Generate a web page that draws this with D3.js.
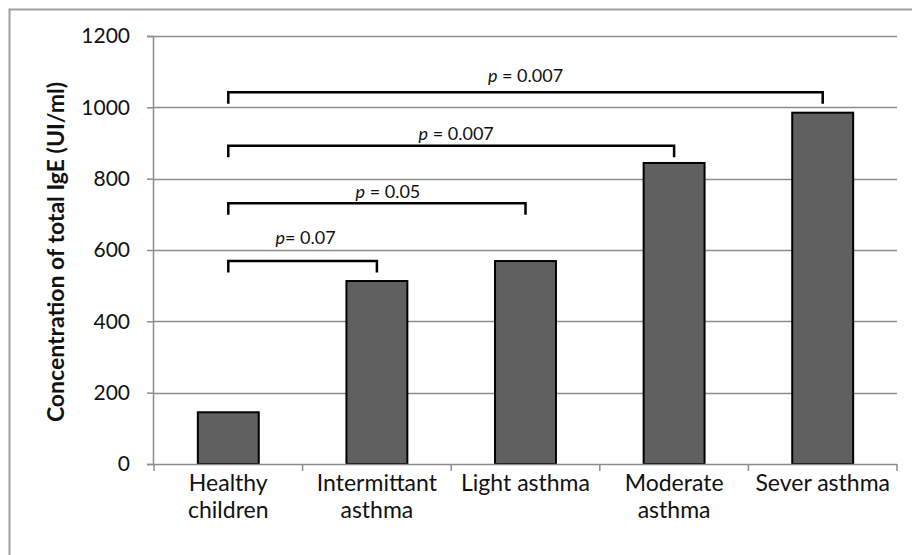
<!DOCTYPE html>
<html>
<head>
    <title>Total IgE</title>
    <script src="https://cdnjs.cloudflare.com/ajax/libs/d3/7.8.5/d3.min.js"></script>
    <style>
        body { margin: 0; background: #fff; }
        text { font-family: Lato, "Open Sans", sans-serif; fill: #111; }
    </style>
</head>
<body>
    <div id="chart"></div>
    <script>
        // categories, one array of lines per label
        var categories = ["Healthy children", "Intermittant asthma", "Light asthma", "Moderate asthma", "Sever asthma"];
        var categoryLines = [["Healthy", "children"], ["Intermittant", "asthma"], ["Light asthma"], ["Moderate", "asthma"], ["Sever asthma"]];
        var igeValues = [145, 513, 569, 844, 985];
        var yTicks = [0, 200, 400, 600, 800, 1000, 1200];

        // significance brackets: from Healthy to target, bracket level, label
        var bracketTargets = ["Sever asthma", "Moderate asthma", "Light asthma", "Intermittant asthma"];
        var bracketLevels = [1042, 892, 731, 569];
        var bracketLabels = ["= 0.007", "= 0.007", "= 0.05", "= 0.07"];

        var width = 912, height = 555;
        var plot = { left: 154, right: 897, top: 36, bottom: 464 };

        var svg = d3.select("#chart").append("svg")
            .attr("width", width)
            .attr("height", height);

        // outer frame
        svg.append("rect")
            .attr("x", 9.5).attr("y", 9.5)
            .attr("width", width + 20).attr("height", height + 20)
            .attr("fill", "none")
            .attr("stroke", "#a0a0a0")
            .attr("stroke-width", 2);

        var x = d3.scaleBand()
            .domain(categories)
            .range([plot.left, plot.right])
            .paddingInner(0.59)
            .paddingOuter(0.295);

        var y = d3.scaleLinear()
            .domain([0, 1200])
            .range([plot.bottom, plot.top]);

        // gridlines
        svg.append("g")
            .selectAll("line")
            .data(yTicks.slice(1))
            .join("line")
            .attr("x1", plot.left - 1).attr("x2", plot.right)
            .attr("y1", function (d) { return Math.round(y(d)) + 0.5; })
            .attr("y2", function (d) { return Math.round(y(d)) + 0.5; })
            .attr("stroke", "#8c8c8c")
            .attr("stroke-width", 1.5);

        // y axis
        var yAxis = svg.append("g")
            .attr("transform", "translate(" + (plot.left - 1) + ",0)")
            .call(d3.axisLeft(y).tickValues(yTicks).tickFormat(d3.format("d")).tickSize(6).tickPadding(17));
        yAxis.select(".domain").attr("stroke", "#8c8c8c").attr("stroke-width", 1.5);
        yAxis.selectAll(".tick line").attr("stroke", "#8c8c8c").attr("stroke-width", 1.5);
        yAxis.selectAll(".tick text")
            .style("font-size", "21px")
            .style("font-family", "Lato, sans-serif")
            .attr("fill", "#111");

        // bars
        svg.append("g")
            .selectAll("rect")
            .data(igeValues)
            .join("rect")
            .attr("x", function (d, i) { return x(categories[i]); })
            .attr("y", function (d) { return y(d); })
            .attr("width", x.bandwidth())
            .attr("height", function (d) { return y(0) - y(d); })
            .attr("fill", "#606060")
            .attr("stroke", "#000")
            .attr("stroke-width", 2);

        // x axis line and boundary ticks
        svg.append("line")
            .attr("x1", plot.left - 1).attr("x2", plot.right)
            .attr("y1", plot.bottom + 0.5).attr("y2", plot.bottom + 0.5)
            .attr("stroke", "#8c8c8c").attr("stroke-width", 1.5);

        var step = x.step();
        var bounds = d3.range(categories.length + 1).map(function (i) { return plot.left + i * step; });
        svg.append("g")
            .selectAll("line")
            .data(bounds)
            .join("line")
            .attr("x1", function (d) { return d; }).attr("x2", function (d) { return d; })
            .attr("y1", plot.bottom).attr("y2", plot.bottom + 7)
            .attr("stroke", "#8c8c8c").attr("stroke-width", 1.5);

        var xLabels = svg.append("g")
            .selectAll("text")
            .data(categories)
            .join("text")
            .attr("x", function (d) { return x(d) + x.bandwidth() / 2; })
            .attr("y", plot.bottom + 27)
            .attr("text-anchor", "middle")
            .style("font-size", "23px");
        xLabels.each(function (d, i) {
            var t = d3.select(this);
            categoryLines[i].forEach(function (line, j) {
                t.append("tspan")
                    .attr("x", x(d) + x.bandwidth() / 2)
                    .attr("dy", j === 0 ? 0 : 27)
                    .text(line);
            });
        });

        // y axis title
        svg.append("text")
            .attr("transform", "translate(64," + ((plot.top + plot.bottom) / 2 + 2) + ") rotate(-90)")
            .attr("text-anchor", "middle")
            .style("font-size", "23px")
            .style("font-weight", "bold")
            .text("Concentration of total IgE (UI/ml)");

        // brackets
        var startX = x(categories[0]) + x.bandwidth() / 2;
        var drop = 11.5;
        var labelGap = [10.6, 5.7, 5.3, 17];
        var labelShift = [0, 5, 11, 3];
        bracketTargets.forEach(function (target, i) {
            var endX = x(target) + x.bandwidth() / 2;
            var by = y(bracketLevels[i]);
            svg.append("path")
                .attr("d", "M" + startX + "," + (by + drop) + "V" + by + "H" + endX + "V" + (by + drop))
                .attr("fill", "none")
                .attr("stroke", "#000")
                .attr("stroke-width", 2.5);
            var lbl = svg.append("text")
                .attr("x", (startX + endX) / 2 + labelShift[i])
                .attr("y", by - labelGap[i])
                .attr("text-anchor", "middle")
                .style("font-size", "18px");
            lbl.append("tspan").style("font-style", "italic").text("p");
            lbl.append("tspan").text(i === 3 ? bracketLabels[i] : " " + bracketLabels[i]);
        });
    </script>
</body>
</html>
